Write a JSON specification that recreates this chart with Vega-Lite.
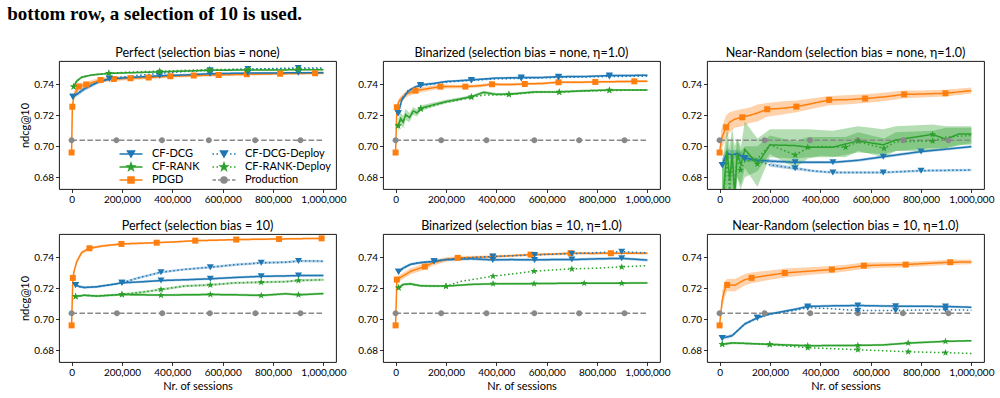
{
  "$schema": "https://vega.github.io/schema/vega-lite/v6.json",
  "padding": {"left": 7, "top": 5, "right": 2, "bottom": 2},
  "title": {"text": "bottom row, a selection of 10 is used.", "anchor": "start", "frame": "bounds", "font": "Liberation Serif", "fontSize": 19, "fontWeight": "bold", "color": "#000000", "offset": 22, "dx": -12},
  "config": {
    "font": "Lato",
    "view": {"stroke": "#000000", "strokeWidth": 0.9},
    "axis": {"domain": false, "grid": false, "tickColor": "#000000", "tickSize": 3.5, "tickWidth": 0.8, "labelFontSize": 10, "labelColor": "#000000", "labelPadding": 2, "titleFontSize": 11, "titleFontWeight": "normal", "titleColor": "#000000", "titlePadding": 3},
    "title": {"fontSize": 12.5, "fontWeight": "normal", "color": "#000000", "offset": 2}
  },
  "data": {"values": [
    {"p":1,"s":"Production","x":0,"y":0.704,"m":1},{"p":1,"s":"Production","x":178000,"y":0.704,"m":1},{"p":1,"s":"Production","x":359000,"y":0.704,"m":1},{"p":1,"s":"Production","x":545000,"y":0.704,"m":1},{"p":1,"s":"Production","x":729000,"y":0.704,"m":1},{"p":1,"s":"Production","x":909000,"y":0.704,"m":1},{"p":1,"s":"Production","x":1000000,"y":0.704},
    {"p":1,"s":"PDGD","x":0,"y":0.696,"m":1},
    {"p":1,"s":"PDGD","x":3000,"y":0.7255,"m":1,"lo":0.7235,"hi":0.7275},
    {"p":1,"s":"PDGD","x":10000,"y":0.733,"lo":0.7305,"hi":0.7355},
    {"p":1,"s":"PDGD","x":29000,"y":0.7385,"m":1,"lo":0.7365,"hi":0.7405},
    {"p":1,"s":"PDGD","x":58000,"y":0.7398,"m":1,"lo":0.738,"hi":0.7416},
    {"p":1,"s":"PDGD","x":115000,"y":0.7428,"m":1,"lo":0.7413,"hi":0.7443},
    {"p":1,"s":"PDGD","x":168000,"y":0.7434,"m":1,"lo":0.742,"hi":0.7448},
    {"p":1,"s":"PDGD","x":234000,"y":0.7439,"m":1,"lo":0.7427,"hi":0.7451},
    {"p":1,"s":"PDGD","x":306000,"y":0.7443,"m":1,"lo":0.7432,"hi":0.7454},
    {"p":1,"s":"PDGD","x":392000,"y":0.7452,"m":1,"lo":0.7442,"hi":0.7462},
    {"p":1,"s":"PDGD","x":485000,"y":0.7456,"m":1,"lo":0.7447,"hi":0.7465},
    {"p":1,"s":"PDGD","x":584000,"y":0.746,"m":1,"lo":0.7451,"hi":0.7469},
    {"p":1,"s":"PDGD","x":696000,"y":0.7464,"m":1,"lo":0.7456,"hi":0.7472},
    {"p":1,"s":"PDGD","x":828000,"y":0.7468,"m":1,"lo":0.746,"hi":0.7476},
    {"p":1,"s":"PDGD","x":967000,"y":0.7471,"m":1,"lo":0.7463,"hi":0.7479},
    {"p":1,"s":"PDGD","x":1000000,"y":0.7472,"lo":0.7464,"hi":0.748},
    {"p":1,"s":"CF-DCG","x":5000,"y":0.732,"m":1,"lo":0.7305,"hi":0.7335},
    {"p":1,"s":"CF-DCG","x":20000,"y":0.7335,"lo":0.732,"hi":0.735},
    {"p":1,"s":"CF-DCG","x":50000,"y":0.737,"lo":0.7355,"hi":0.7385},
    {"p":1,"s":"CF-DCG","x":100000,"y":0.741,"lo":0.7398,"hi":0.7422},
    {"p":1,"s":"CF-DCG","x":150000,"y":0.7435,"m":1,"lo":0.7425,"hi":0.7445},
    {"p":1,"s":"CF-DCG","x":250000,"y":0.7445,"lo":0.7437,"hi":0.7453},
    {"p":1,"s":"CF-DCG","x":350000,"y":0.7455,"m":1,"lo":0.7447,"hi":0.7463},
    {"p":1,"s":"CF-DCG","x":450000,"y":0.746,"lo":0.7452,"hi":0.7468},
    {"p":1,"s":"CF-DCG","x":550000,"y":0.7468,"m":1,"lo":0.746,"hi":0.7476},
    {"p":1,"s":"CF-DCG","x":700000,"y":0.7472,"m":1,"lo":0.7465,"hi":0.7479},
    {"p":1,"s":"CF-DCG","x":900000,"y":0.7474,"m":1,"lo":0.7467,"hi":0.7481},
    {"p":1,"s":"CF-DCG","x":1000000,"y":0.7475,"lo":0.7468,"hi":0.7482},
    {"p":1,"s":"CF-DCG-Deploy","x":5000,"y":0.732,"m":1},
    {"p":1,"s":"CF-DCG-Deploy","x":20000,"y":0.7335},
    {"p":1,"s":"CF-DCG-Deploy","x":50000,"y":0.737},
    {"p":1,"s":"CF-DCG-Deploy","x":100000,"y":0.741},
    {"p":1,"s":"CF-DCG-Deploy","x":150000,"y":0.7437,"m":1},
    {"p":1,"s":"CF-DCG-Deploy","x":250000,"y":0.7455},
    {"p":1,"s":"CF-DCG-Deploy","x":350000,"y":0.747,"m":1},
    {"p":1,"s":"CF-DCG-Deploy","x":450000,"y":0.7482},
    {"p":1,"s":"CF-DCG-Deploy","x":550000,"y":0.749,"m":1},
    {"p":1,"s":"CF-DCG-Deploy","x":700000,"y":0.7498,"m":1},
    {"p":1,"s":"CF-DCG-Deploy","x":900000,"y":0.7505,"m":1},
    {"p":1,"s":"CF-DCG-Deploy","x":1000000,"y":0.7505},
    {"p":1,"s":"CF-RANK","x":8000,"y":0.7385,"m":1,"lo":0.7375,"hi":0.7395},
    {"p":1,"s":"CF-RANK","x":20000,"y":0.742,"lo":0.741,"hi":0.743},
    {"p":1,"s":"CF-RANK","x":40000,"y":0.7445,"lo":0.7437,"hi":0.7453},
    {"p":1,"s":"CF-RANK","x":80000,"y":0.746,"lo":0.7453,"hi":0.7467},
    {"p":1,"s":"CF-RANK","x":148000,"y":0.747,"m":1,"lo":0.7464,"hi":0.7476},
    {"p":1,"s":"CF-RANK","x":250000,"y":0.7475,"lo":0.7469,"hi":0.7481},
    {"p":1,"s":"CF-RANK","x":350000,"y":0.748,"m":1,"lo":0.7474,"hi":0.7486},
    {"p":1,"s":"CF-RANK","x":548000,"y":0.749,"m":1,"lo":0.7485,"hi":0.7495},
    {"p":1,"s":"CF-RANK","x":700000,"y":0.7492,"m":1,"lo":0.7487,"hi":0.7497},
    {"p":1,"s":"CF-RANK","x":901000,"y":0.7493,"m":1,"lo":0.7488,"hi":0.7498},
    {"p":1,"s":"CF-RANK","x":1000000,"y":0.7494,"lo":0.7489,"hi":0.7499},
    {"p":1,"s":"CF-RANK-Deploy","x":8000,"y":0.7385,"m":1},
    {"p":1,"s":"CF-RANK-Deploy","x":20000,"y":0.742},
    {"p":1,"s":"CF-RANK-Deploy","x":40000,"y":0.7445},
    {"p":1,"s":"CF-RANK-Deploy","x":80000,"y":0.746},
    {"p":1,"s":"CF-RANK-Deploy","x":148000,"y":0.7472,"m":1},
    {"p":1,"s":"CF-RANK-Deploy","x":250000,"y":0.748},
    {"p":1,"s":"CF-RANK-Deploy","x":350000,"y":0.7485,"m":1},
    {"p":1,"s":"CF-RANK-Deploy","x":548000,"y":0.7495,"m":1},
    {"p":1,"s":"CF-RANK-Deploy","x":700000,"y":0.7497,"m":1},
    {"p":1,"s":"CF-RANK-Deploy","x":901000,"y":0.7498,"m":1},
    {"p":1,"s":"CF-RANK-Deploy","x":1000000,"y":0.7498},

    {"p":2,"s":"Production","x":0,"y":0.704,"m":1},{"p":2,"s":"Production","x":181000,"y":0.704,"m":1},{"p":2,"s":"Production","x":361000,"y":0.704,"m":1},{"p":2,"s":"Production","x":551000,"y":0.704,"m":1},{"p":2,"s":"Production","x":729000,"y":0.704,"m":1},{"p":2,"s":"Production","x":909000,"y":0.704,"m":1},{"p":2,"s":"Production","x":1000000,"y":0.704},
    {"p":2,"s":"PDGD","x":0,"y":0.696,"m":1},
    {"p":2,"s":"PDGD","x":5000,"y":0.7252,"m":1,"lo":0.7232,"hi":0.7272},
    {"p":2,"s":"PDGD","x":15000,"y":0.7295,"lo":0.7275,"hi":0.7315},
    {"p":2,"s":"PDGD","x":40000,"y":0.7335,"lo":0.7315,"hi":0.7355},
    {"p":2,"s":"PDGD","x":79000,"y":0.7359,"m":1,"lo":0.7341,"hi":0.7377},
    {"p":2,"s":"PDGD","x":120000,"y":0.737,"lo":0.7354,"hi":0.7386},
    {"p":2,"s":"PDGD","x":178000,"y":0.7385,"m":1,"lo":0.7372,"hi":0.7398},
    {"p":2,"s":"PDGD","x":230000,"y":0.7385,"lo":0.7373,"hi":0.7397},
    {"p":2,"s":"PDGD","x":277000,"y":0.7385,"m":1,"lo":0.7374,"hi":0.7396},
    {"p":2,"s":"PDGD","x":330000,"y":0.739,"lo":0.738,"hi":0.74},
    {"p":2,"s":"PDGD","x":383000,"y":0.74,"m":1,"lo":0.739,"hi":0.741},
    {"p":2,"s":"PDGD","x":450000,"y":0.7398,"lo":0.7389,"hi":0.7407},
    {"p":2,"s":"PDGD","x":513000,"y":0.7402,"m":1,"lo":0.7393,"hi":0.7411},
    {"p":2,"s":"PDGD","x":580000,"y":0.7405,"lo":0.7397,"hi":0.7413},
    {"p":2,"s":"PDGD","x":647000,"y":0.7413,"m":1,"lo":0.7405,"hi":0.7421},
    {"p":2,"s":"PDGD","x":720000,"y":0.7413,"lo":0.7405,"hi":0.7421},
    {"p":2,"s":"PDGD","x":793000,"y":0.7415,"m":1,"lo":0.7407,"hi":0.7423},
    {"p":2,"s":"PDGD","x":870000,"y":0.7417,"lo":0.7409,"hi":0.7425},
    {"p":2,"s":"PDGD","x":948000,"y":0.7419,"m":1,"lo":0.7411,"hi":0.7427},
    {"p":2,"s":"PDGD","x":1000000,"y":0.742,"lo":0.7412,"hi":0.7428},
    {"p":2,"s":"CF-DCG","x":10500,"y":0.7213,"m":1,"lo":0.7195,"hi":0.7231},
    {"p":2,"s":"CF-DCG","x":25000,"y":0.73,"lo":0.7285,"hi":0.7315},
    {"p":2,"s":"CF-DCG","x":50000,"y":0.7355,"lo":0.7343,"hi":0.7367},
    {"p":2,"s":"CF-DCG","x":75000,"y":0.738,"lo":0.737,"hi":0.739},
    {"p":2,"s":"CF-DCG","x":99000,"y":0.7396,"m":1,"lo":0.7387,"hi":0.7405},
    {"p":2,"s":"CF-DCG","x":150000,"y":0.7405,"lo":0.7397,"hi":0.7413},
    {"p":2,"s":"CF-DCG","x":200000,"y":0.7418,"lo":0.7411,"hi":0.7425},
    {"p":2,"s":"CF-DCG","x":301000,"y":0.7428,"m":1,"lo":0.7421,"hi":0.7435},
    {"p":2,"s":"CF-DCG","x":400000,"y":0.744,"lo":0.7433,"hi":0.7447},
    {"p":2,"s":"CF-DCG","x":499000,"y":0.7443,"m":1,"lo":0.7436,"hi":0.745},
    {"p":2,"s":"CF-DCG","x":570000,"y":0.7443,"lo":0.7436,"hi":0.745},
    {"p":2,"s":"CF-DCG","x":647000,"y":0.7449,"m":1,"lo":0.7442,"hi":0.7456},
    {"p":2,"s":"CF-DCG","x":750000,"y":0.745,"lo":0.7443,"hi":0.7457},
    {"p":2,"s":"CF-DCG","x":849000,"y":0.7456,"m":1,"lo":0.7449,"hi":0.7463},
    {"p":2,"s":"CF-DCG","x":1000000,"y":0.7458,"lo":0.7451,"hi":0.7465},
    {"p":2,"s":"CF-DCG-Deploy","x":10500,"y":0.7213,"m":1},
    {"p":2,"s":"CF-DCG-Deploy","x":25000,"y":0.7305},
    {"p":2,"s":"CF-DCG-Deploy","x":50000,"y":0.736},
    {"p":2,"s":"CF-DCG-Deploy","x":75000,"y":0.7378},
    {"p":2,"s":"CF-DCG-Deploy","x":99000,"y":0.739,"m":1},
    {"p":2,"s":"CF-DCG-Deploy","x":150000,"y":0.7402},
    {"p":2,"s":"CF-DCG-Deploy","x":200000,"y":0.7413},
    {"p":2,"s":"CF-DCG-Deploy","x":301000,"y":0.7425,"m":1},
    {"p":2,"s":"CF-DCG-Deploy","x":400000,"y":0.7435},
    {"p":2,"s":"CF-DCG-Deploy","x":499000,"y":0.7438,"m":1},
    {"p":2,"s":"CF-DCG-Deploy","x":647000,"y":0.7444,"m":1},
    {"p":2,"s":"CF-DCG-Deploy","x":849000,"y":0.745,"m":1},
    {"p":2,"s":"CF-DCG-Deploy","x":1000000,"y":0.7452},
    {"p":2,"s":"CF-RANK","x":10500,"y":0.7133,"m":1,"lo":0.709,"hi":0.7176},
    {"p":2,"s":"CF-RANK","x":20000,"y":0.718,"lo":0.714,"hi":0.722},
    {"p":2,"s":"CF-RANK","x":30000,"y":0.7155,"lo":0.7115,"hi":0.7195},
    {"p":2,"s":"CF-RANK","x":40000,"y":0.7205,"lo":0.717,"hi":0.724},
    {"p":2,"s":"CF-RANK","x":55000,"y":0.7185,"lo":0.7155,"hi":0.7215},
    {"p":2,"s":"CF-RANK","x":70000,"y":0.7228,"lo":0.7203,"hi":0.7253},
    {"p":2,"s":"CF-RANK","x":85000,"y":0.7215,"lo":0.7193,"hi":0.7237},
    {"p":2,"s":"CF-RANK","x":100000,"y":0.7245,"m":1,"lo":0.7227,"hi":0.7263},
    {"p":2,"s":"CF-RANK","x":150000,"y":0.7268,"lo":0.7254,"hi":0.7282},
    {"p":2,"s":"CF-RANK","x":200000,"y":0.7288,"lo":0.7276,"hi":0.73},
    {"p":2,"s":"CF-RANK","x":250000,"y":0.7303,"lo":0.7292,"hi":0.7314},
    {"p":2,"s":"CF-RANK","x":301000,"y":0.732,"m":1,"lo":0.731,"hi":0.733},
    {"p":2,"s":"CF-RANK","x":350000,"y":0.7348,"lo":0.7338,"hi":0.7358},
    {"p":2,"s":"CF-RANK","x":400000,"y":0.7335,"lo":0.7326,"hi":0.7344},
    {"p":2,"s":"CF-RANK","x":450000,"y":0.7336,"m":1,"lo":0.7327,"hi":0.7345},
    {"p":2,"s":"CF-RANK","x":550000,"y":0.735,"lo":0.7342,"hi":0.7358},
    {"p":2,"s":"CF-RANK","x":650000,"y":0.7351,"m":1,"lo":0.7343,"hi":0.7359},
    {"p":2,"s":"CF-RANK","x":750000,"y":0.7358,"lo":0.735,"hi":0.7366},
    {"p":2,"s":"CF-RANK","x":849000,"y":0.7363,"m":1,"lo":0.7356,"hi":0.737},
    {"p":2,"s":"CF-RANK","x":1000000,"y":0.7363,"lo":0.7356,"hi":0.737},
    {"p":2,"s":"CF-RANK-Deploy","x":10500,"y":0.7133,"m":1},
    {"p":2,"s":"CF-RANK-Deploy","x":20000,"y":0.7175},
    {"p":2,"s":"CF-RANK-Deploy","x":30000,"y":0.716},
    {"p":2,"s":"CF-RANK-Deploy","x":40000,"y":0.7195},
    {"p":2,"s":"CF-RANK-Deploy","x":55000,"y":0.719},
    {"p":2,"s":"CF-RANK-Deploy","x":70000,"y":0.722},
    {"p":2,"s":"CF-RANK-Deploy","x":85000,"y":0.7218},
    {"p":2,"s":"CF-RANK-Deploy","x":100000,"y":0.724,"m":1},
    {"p":2,"s":"CF-RANK-Deploy","x":150000,"y":0.7262},
    {"p":2,"s":"CF-RANK-Deploy","x":200000,"y":0.7285},
    {"p":2,"s":"CF-RANK-Deploy","x":250000,"y":0.7298},
    {"p":2,"s":"CF-RANK-Deploy","x":301000,"y":0.7316,"m":1},
    {"p":2,"s":"CF-RANK-Deploy","x":350000,"y":0.733},
    {"p":2,"s":"CF-RANK-Deploy","x":400000,"y":0.7332},
    {"p":2,"s":"CF-RANK-Deploy","x":450000,"y":0.7334,"m":1},
    {"p":2,"s":"CF-RANK-Deploy","x":550000,"y":0.7348},
    {"p":2,"s":"CF-RANK-Deploy","x":650000,"y":0.7349,"m":1},
    {"p":2,"s":"CF-RANK-Deploy","x":750000,"y":0.7357},
    {"p":2,"s":"CF-RANK-Deploy","x":849000,"y":0.736,"m":1},
    {"p":2,"s":"CF-RANK-Deploy","x":1000000,"y":0.7362},

    {"p":3,"s":"Production","x":0,"y":0.704,"m":1},{"p":3,"s":"Production","x":179000,"y":0.704,"m":1},{"p":3,"s":"Production","x":359000,"y":0.704,"m":1},{"p":3,"s":"Production","x":549000,"y":0.704,"m":1},{"p":3,"s":"Production","x":729000,"y":0.704,"m":1},{"p":3,"s":"Production","x":909000,"y":0.704,"m":1},{"p":3,"s":"Production","x":1000000,"y":0.704},
    {"p":3,"s":"PDGD","x":0,"y":0.696,"m":1},
    {"p":3,"s":"PDGD","x":5000,"y":0.702,"lo":0.694,"hi":0.71},
    {"p":3,"s":"PDGD","x":10000,"y":0.706,"lo":0.699,"hi":0.713},
    {"p":3,"s":"PDGD","x":26000,"y":0.7123,"m":1,"lo":0.705,"hi":0.72},
    {"p":3,"s":"PDGD","x":40000,"y":0.7155,"lo":0.709,"hi":0.722},
    {"p":3,"s":"PDGD","x":60000,"y":0.7175,"lo":0.712,"hi":0.723},
    {"p":3,"s":"PDGD","x":90000,"y":0.7187,"m":1,"lo":0.713,"hi":0.724},
    {"p":3,"s":"PDGD","x":120000,"y":0.72,"lo":0.715,"hi":0.725},
    {"p":3,"s":"PDGD","x":150000,"y":0.7215,"lo":0.716,"hi":0.727},
    {"p":3,"s":"PDGD","x":189000,"y":0.7239,"m":1,"lo":0.719,"hi":0.728},
    {"p":3,"s":"PDGD","x":250000,"y":0.7245,"lo":0.7205,"hi":0.729},
    {"p":3,"s":"PDGD","x":305000,"y":0.7256,"m":1,"lo":0.722,"hi":0.7295},
    {"p":3,"s":"PDGD","x":350000,"y":0.727,"lo":0.7235,"hi":0.7305},
    {"p":3,"s":"PDGD","x":435000,"y":0.7299,"m":1,"lo":0.7265,"hi":0.7325},
    {"p":3,"s":"PDGD","x":500000,"y":0.73,"lo":0.727,"hi":0.733},
    {"p":3,"s":"PDGD","x":578000,"y":0.7308,"m":1,"lo":0.728,"hi":0.7335},
    {"p":3,"s":"PDGD","x":650000,"y":0.7318,"lo":0.729,"hi":0.7345},
    {"p":3,"s":"PDGD","x":733000,"y":0.7335,"m":1,"lo":0.731,"hi":0.736},
    {"p":3,"s":"PDGD","x":800000,"y":0.7337,"lo":0.7315,"hi":0.736},
    {"p":3,"s":"PDGD","x":897000,"y":0.7342,"m":1,"lo":0.7322,"hi":0.7365},
    {"p":3,"s":"PDGD","x":1000000,"y":0.7359,"lo":0.734,"hi":0.738},
    {"p":3,"s":"CF-DCG","x":10500,"y":0.688,"m":1,"lo":0.684,"hi":0.692},
    {"p":3,"s":"CF-DCG","x":20000,"y":0.692,"lo":0.688,"hi":0.696},
    {"p":3,"s":"CF-DCG","x":30000,"y":0.6955,"lo":0.6925,"hi":0.6985},
    {"p":3,"s":"CF-DCG","x":50000,"y":0.6944,"lo":0.6915,"hi":0.6973},
    {"p":3,"s":"CF-DCG","x":70000,"y":0.6955,"lo":0.693,"hi":0.698},
    {"p":3,"s":"CF-DCG","x":100000,"y":0.6925,"m":1,"lo":0.6905,"hi":0.6945},
    {"p":3,"s":"CF-DCG","x":150000,"y":0.691,"lo":0.6895,"hi":0.6925},
    {"p":3,"s":"CF-DCG","x":200000,"y":0.6905,"lo":0.6893,"hi":0.6917},
    {"p":3,"s":"CF-DCG","x":300000,"y":0.6897,"m":1,"lo":0.6887,"hi":0.6907},
    {"p":3,"s":"CF-DCG","x":450000,"y":0.6897,"m":1,"lo":0.6888,"hi":0.6906},
    {"p":3,"s":"CF-DCG","x":550000,"y":0.691,"lo":0.6901,"hi":0.6919},
    {"p":3,"s":"CF-DCG","x":650000,"y":0.6933,"m":1,"lo":0.6924,"hi":0.6942},
    {"p":3,"s":"CF-DCG","x":800000,"y":0.6966,"m":1,"lo":0.6957,"hi":0.6975},
    {"p":3,"s":"CF-DCG","x":1000000,"y":0.6998,"lo":0.6989,"hi":0.7007},
    {"p":3,"s":"CF-DCG-Deploy","x":10500,"y":0.688,"m":1},
    {"p":3,"s":"CF-DCG-Deploy","x":20000,"y":0.692},
    {"p":3,"s":"CF-DCG-Deploy","x":30000,"y":0.695},
    {"p":3,"s":"CF-DCG-Deploy","x":50000,"y":0.694},
    {"p":3,"s":"CF-DCG-Deploy","x":70000,"y":0.695},
    {"p":3,"s":"CF-DCG-Deploy","x":100000,"y":0.692,"m":1},
    {"p":3,"s":"CF-DCG-Deploy","x":150000,"y":0.6905},
    {"p":3,"s":"CF-DCG-Deploy","x":200000,"y":0.688,"lo":0.6868,"hi":0.6892},
    {"p":3,"s":"CF-DCG-Deploy","x":300000,"y":0.6858,"m":1,"lo":0.6848,"hi":0.6868},
    {"p":3,"s":"CF-DCG-Deploy","x":380000,"y":0.684,"lo":0.6832,"hi":0.6848},
    {"p":3,"s":"CF-DCG-Deploy","x":450000,"y":0.6832,"m":1,"lo":0.6824,"hi":0.684},
    {"p":3,"s":"CF-DCG-Deploy","x":650000,"y":0.6832,"m":1,"lo":0.6824,"hi":0.684},
    {"p":3,"s":"CF-DCG-Deploy","x":800000,"y":0.6843,"m":1,"lo":0.6835,"hi":0.6851},
    {"p":3,"s":"CF-DCG-Deploy","x":1000000,"y":0.6847,"lo":0.6839,"hi":0.6855},
    {"p":3,"s":"CF-RANK","x":10000,"y":0.655,"lo":0.64,"hi":0.69},
    {"p":3,"s":"CF-RANK","x":20000,"y":0.68,"lo":0.66,"hi":0.7},
    {"p":3,"s":"CF-RANK","x":30000,"y":0.697,"lo":0.675,"hi":0.712},
    {"p":3,"s":"CF-RANK","x":40000,"y":0.678,"lo":0.665,"hi":0.7},
    {"p":3,"s":"CF-RANK","x":50000,"y":0.695,"lo":0.672,"hi":0.712},
    {"p":3,"s":"CF-RANK","x":60000,"y":0.668,"lo":0.66,"hi":0.7},
    {"p":3,"s":"CF-RANK","x":70000,"y":0.696,"lo":0.68,"hi":0.705},
    {"p":3,"s":"CF-RANK","x":85000,"y":0.688,"lo":0.675,"hi":0.7},
    {"p":3,"s":"CF-RANK","x":100000,"y":0.698,"lo":0.686,"hi":0.716},
    {"p":3,"s":"CF-RANK","x":150000,"y":0.6886,"m":1,"lo":0.674,"hi":0.705},
    {"p":3,"s":"CF-RANK","x":200000,"y":0.7009,"lo":0.693,"hi":0.711},
    {"p":3,"s":"CF-RANK","x":300000,"y":0.7005,"lo":0.692,"hi":0.711},
    {"p":3,"s":"CF-RANK","x":350000,"y":0.6994,"m":1,"lo":0.693,"hi":0.711},
    {"p":3,"s":"CF-RANK","x":450000,"y":0.6994,"lo":0.693,"hi":0.71},
    {"p":3,"s":"CF-RANK","x":550000,"y":0.7035,"m":1,"lo":0.696,"hi":0.713},
    {"p":3,"s":"CF-RANK","x":650000,"y":0.701,"lo":0.695,"hi":0.711},
    {"p":3,"s":"CF-RANK","x":700000,"y":0.7041,"lo":0.697,"hi":0.713},
    {"p":3,"s":"CF-RANK","x":846000,"y":0.7077,"m":1,"lo":0.699,"hi":0.714},
    {"p":3,"s":"CF-RANK","x":900000,"y":0.7045,"lo":0.699,"hi":0.713},
    {"p":3,"s":"CF-RANK","x":950000,"y":0.708,"lo":0.701,"hi":0.713},
    {"p":3,"s":"CF-RANK","x":1000000,"y":0.708,"lo":0.701,"hi":0.713},
    {"p":3,"s":"CF-RANK-Deploy","x":10000,"y":0.66,"lo":0.64,"hi":0.685},
    {"p":3,"s":"CF-RANK-Deploy","x":20000,"y":0.676,"lo":0.66,"hi":0.69},
    {"p":3,"s":"CF-RANK-Deploy","x":30000,"y":0.69,"lo":0.672,"hi":0.705},
    {"p":3,"s":"CF-RANK-Deploy","x":40000,"y":0.672,"lo":0.66,"hi":0.69},
    {"p":3,"s":"CF-RANK-Deploy","x":50000,"y":0.69,"lo":0.675,"hi":0.705},
    {"p":3,"s":"CF-RANK-Deploy","x":60000,"y":0.675,"lo":0.66,"hi":0.69},
    {"p":3,"s":"CF-RANK-Deploy","x":70000,"y":0.693,"lo":0.68,"hi":0.705},
    {"p":3,"s":"CF-RANK-Deploy","x":83000,"y":0.6847,"m":1,"lo":0.672,"hi":0.697},
    {"p":3,"s":"CF-RANK-Deploy","x":100000,"y":0.69,"lo":0.68,"hi":0.7},
    {"p":3,"s":"CF-RANK-Deploy","x":150000,"y":0.692,"lo":0.684,"hi":0.7},
    {"p":3,"s":"CF-RANK-Deploy","x":200000,"y":0.701,"lo":0.695,"hi":0.707},
    {"p":3,"s":"CF-RANK-Deploy","x":300000,"y":0.6944,"m":1,"lo":0.686,"hi":0.703},
    {"p":3,"s":"CF-RANK-Deploy","x":350000,"y":0.699,"lo":0.692,"hi":0.706},
    {"p":3,"s":"CF-RANK-Deploy","x":400000,"y":0.7,"lo":0.694,"hi":0.706},
    {"p":3,"s":"CF-RANK-Deploy","x":500000,"y":0.6994,"m":1,"lo":0.693,"hi":0.706},
    {"p":3,"s":"CF-RANK-Deploy","x":550000,"y":0.703,"lo":0.697,"hi":0.709},
    {"p":3,"s":"CF-RANK-Deploy","x":653000,"y":0.6987,"m":1,"lo":0.693,"hi":0.705},
    {"p":3,"s":"CF-RANK-Deploy","x":700000,"y":0.703,"lo":0.697,"hi":0.709},
    {"p":3,"s":"CF-RANK-Deploy","x":846000,"y":0.7034,"m":1,"lo":0.697,"hi":0.71},
    {"p":3,"s":"CF-RANK-Deploy","x":900000,"y":0.706,"lo":0.699,"hi":0.712},
    {"p":3,"s":"CF-RANK-Deploy","x":1000000,"y":0.707,"lo":0.702,"hi":0.712},

    {"p":4,"s":"Production","x":0,"y":0.704,"m":1},{"p":4,"s":"Production","x":180000,"y":0.704,"m":1},{"p":4,"s":"Production","x":360000,"y":0.704,"m":1},{"p":4,"s":"Production","x":549000,"y":0.704,"m":1},{"p":4,"s":"Production","x":730000,"y":0.704,"m":1},{"p":4,"s":"Production","x":909000,"y":0.704,"m":1},{"p":4,"s":"Production","x":1000000,"y":0.704},
    {"p":4,"s":"PDGD","x":0,"y":0.6961,"m":1},
    {"p":4,"s":"PDGD","x":5000,"y":0.7267,"m":1,"lo":0.7247,"hi":0.7287},
    {"p":4,"s":"PDGD","x":10000,"y":0.731,"lo":0.7292,"hi":0.7328},
    {"p":4,"s":"PDGD","x":20000,"y":0.737,"lo":0.7355,"hi":0.7385},
    {"p":4,"s":"PDGD","x":40000,"y":0.743,"lo":0.7418,"hi":0.7442},
    {"p":4,"s":"PDGD","x":71000,"y":0.7458,"m":1,"lo":0.7448,"hi":0.7468},
    {"p":4,"s":"PDGD","x":120000,"y":0.7472,"lo":0.7464,"hi":0.748},
    {"p":4,"s":"PDGD","x":198000,"y":0.7486,"m":1,"lo":0.7479,"hi":0.7493},
    {"p":4,"s":"PDGD","x":270000,"y":0.749,"lo":0.7483,"hi":0.7497},
    {"p":4,"s":"PDGD","x":338000,"y":0.7494,"m":1,"lo":0.7488,"hi":0.75},
    {"p":4,"s":"PDGD","x":420000,"y":0.75,"lo":0.7494,"hi":0.7506},
    {"p":4,"s":"PDGD","x":491000,"y":0.7507,"m":1,"lo":0.7501,"hi":0.7513},
    {"p":4,"s":"PDGD","x":570000,"y":0.751,"lo":0.7504,"hi":0.7516},
    {"p":4,"s":"PDGD","x":654000,"y":0.7514,"m":1,"lo":0.7508,"hi":0.752},
    {"p":4,"s":"PDGD","x":740000,"y":0.7516,"lo":0.751,"hi":0.7522},
    {"p":4,"s":"PDGD","x":824000,"y":0.7518,"m":1,"lo":0.7512,"hi":0.7524},
    {"p":4,"s":"PDGD","x":993000,"y":0.7522,"m":1,"lo":0.7516,"hi":0.7528},
    {"p":4,"s":"PDGD","x":1000000,"y":0.7522,"lo":0.7516,"hi":0.7528},
    {"p":4,"s":"CF-DCG","x":16000,"y":0.7222,"m":1,"lo":0.7212,"hi":0.7232},
    {"p":4,"s":"CF-DCG","x":30000,"y":0.7212,"lo":0.7203,"hi":0.7221},
    {"p":4,"s":"CF-DCG","x":50000,"y":0.7205,"lo":0.7197,"hi":0.7213},
    {"p":4,"s":"CF-DCG","x":100000,"y":0.721,"lo":0.7202,"hi":0.7218},
    {"p":4,"s":"CF-DCG","x":150000,"y":0.7222,"lo":0.7214,"hi":0.723},
    {"p":4,"s":"CF-DCG","x":200000,"y":0.7235,"m":1,"lo":0.7227,"hi":0.7243},
    {"p":4,"s":"CF-DCG","x":280000,"y":0.7242,"lo":0.7234,"hi":0.725},
    {"p":4,"s":"CF-DCG","x":355000,"y":0.725,"m":1,"lo":0.7242,"hi":0.7258},
    {"p":4,"s":"CF-DCG","x":450000,"y":0.7255,"lo":0.7247,"hi":0.7263},
    {"p":4,"s":"CF-DCG","x":551000,"y":0.7261,"m":1,"lo":0.7253,"hi":0.7269},
    {"p":4,"s":"CF-DCG","x":650000,"y":0.727,"lo":0.7262,"hi":0.7278},
    {"p":4,"s":"CF-DCG","x":753000,"y":0.7277,"m":1,"lo":0.7269,"hi":0.7285},
    {"p":4,"s":"CF-DCG","x":850000,"y":0.728,"lo":0.7272,"hi":0.7288},
    {"p":4,"s":"CF-DCG","x":901000,"y":0.7282,"m":1,"lo":0.7274,"hi":0.729},
    {"p":4,"s":"CF-DCG","x":1000000,"y":0.7282,"lo":0.7274,"hi":0.729},
    {"p":4,"s":"CF-DCG-Deploy","x":16000,"y":0.7222,"m":1},
    {"p":4,"s":"CF-DCG-Deploy","x":30000,"y":0.7212},
    {"p":4,"s":"CF-DCG-Deploy","x":50000,"y":0.7205},
    {"p":4,"s":"CF-DCG-Deploy","x":100000,"y":0.721},
    {"p":4,"s":"CF-DCG-Deploy","x":150000,"y":0.7222},
    {"p":4,"s":"CF-DCG-Deploy","x":200000,"y":0.7235,"m":1,"lo":0.7227,"hi":0.7243},
    {"p":4,"s":"CF-DCG-Deploy","x":260000,"y":0.7265,"lo":0.7257,"hi":0.7273},
    {"p":4,"s":"CF-DCG-Deploy","x":355000,"y":0.7304,"m":1,"lo":0.7296,"hi":0.7312},
    {"p":4,"s":"CF-DCG-Deploy","x":450000,"y":0.7322,"lo":0.7314,"hi":0.733},
    {"p":4,"s":"CF-DCG-Deploy","x":551000,"y":0.7336,"m":1,"lo":0.7328,"hi":0.7344},
    {"p":4,"s":"CF-DCG-Deploy","x":650000,"y":0.7352,"lo":0.7344,"hi":0.736},
    {"p":4,"s":"CF-DCG-Deploy","x":753000,"y":0.7364,"m":1,"lo":0.7356,"hi":0.7372},
    {"p":4,"s":"CF-DCG-Deploy","x":850000,"y":0.7368,"lo":0.736,"hi":0.7376},
    {"p":4,"s":"CF-DCG-Deploy","x":901000,"y":0.7376,"m":1,"lo":0.7368,"hi":0.7384},
    {"p":4,"s":"CF-DCG-Deploy","x":1000000,"y":0.7375,"lo":0.7367,"hi":0.7383},
    {"p":4,"s":"CF-RANK","x":16000,"y":0.7147,"m":1,"lo":0.7139,"hi":0.7155},
    {"p":4,"s":"CF-RANK","x":50000,"y":0.7155,"lo":0.7147,"hi":0.7163},
    {"p":4,"s":"CF-RANK","x":100000,"y":0.715,"lo":0.7142,"hi":0.7158},
    {"p":4,"s":"CF-RANK","x":200000,"y":0.716,"m":1,"lo":0.7152,"hi":0.7168},
    {"p":4,"s":"CF-RANK","x":280000,"y":0.7158,"lo":0.715,"hi":0.7166},
    {"p":4,"s":"CF-RANK","x":355000,"y":0.7156,"m":1,"lo":0.7148,"hi":0.7164},
    {"p":4,"s":"CF-RANK","x":450000,"y":0.7158,"lo":0.715,"hi":0.7166},
    {"p":4,"s":"CF-RANK","x":551000,"y":0.716,"m":1,"lo":0.7152,"hi":0.7168},
    {"p":4,"s":"CF-RANK","x":650000,"y":0.7158,"lo":0.715,"hi":0.7166},
    {"p":4,"s":"CF-RANK","x":753000,"y":0.7154,"m":1,"lo":0.7146,"hi":0.7162},
    {"p":4,"s":"CF-RANK","x":850000,"y":0.7165,"lo":0.7157,"hi":0.7173},
    {"p":4,"s":"CF-RANK","x":901000,"y":0.7158,"m":1,"lo":0.715,"hi":0.7166},
    {"p":4,"s":"CF-RANK","x":1000000,"y":0.7166,"lo":0.7158,"hi":0.7174},
    {"p":4,"s":"CF-RANK-Deploy","x":16000,"y":0.7147,"m":1},
    {"p":4,"s":"CF-RANK-Deploy","x":50000,"y":0.7155},
    {"p":4,"s":"CF-RANK-Deploy","x":100000,"y":0.715},
    {"p":4,"s":"CF-RANK-Deploy","x":200000,"y":0.716,"m":1,"lo":0.7152,"hi":0.7168},
    {"p":4,"s":"CF-RANK-Deploy","x":280000,"y":0.7175,"lo":0.7167,"hi":0.7183},
    {"p":4,"s":"CF-RANK-Deploy","x":355000,"y":0.7192,"m":1,"lo":0.7184,"hi":0.72},
    {"p":4,"s":"CF-RANK-Deploy","x":450000,"y":0.7215,"lo":0.7207,"hi":0.7223},
    {"p":4,"s":"CF-RANK-Deploy","x":551000,"y":0.7222,"m":1,"lo":0.7214,"hi":0.723},
    {"p":4,"s":"CF-RANK-Deploy","x":650000,"y":0.7235,"lo":0.7227,"hi":0.7243},
    {"p":4,"s":"CF-RANK-Deploy","x":753000,"y":0.7239,"m":1,"lo":0.7231,"hi":0.7247},
    {"p":4,"s":"CF-RANK-Deploy","x":850000,"y":0.7243,"lo":0.7235,"hi":0.7251},
    {"p":4,"s":"CF-RANK-Deploy","x":901000,"y":0.725,"m":1,"lo":0.7242,"hi":0.7258},
    {"p":4,"s":"CF-RANK-Deploy","x":1000000,"y":0.7255,"lo":0.7247,"hi":0.7263},

    {"p":5,"s":"Production","x":0,"y":0.704,"m":1},{"p":5,"s":"Production","x":181000,"y":0.704,"m":1},{"p":5,"s":"Production","x":361000,"y":0.704,"m":1},{"p":5,"s":"Production","x":551000,"y":0.704,"m":1},{"p":5,"s":"Production","x":729000,"y":0.704,"m":1},{"p":5,"s":"Production","x":909000,"y":0.704,"m":1},{"p":5,"s":"Production","x":1000000,"y":0.704},
    {"p":5,"s":"PDGD","x":0,"y":0.6961,"m":1},
    {"p":5,"s":"PDGD","x":5000,"y":0.7256,"m":1,"lo":0.7236,"hi":0.7276},
    {"p":5,"s":"PDGD","x":30000,"y":0.728,"lo":0.726,"hi":0.73},
    {"p":5,"s":"PDGD","x":60000,"y":0.731,"lo":0.729,"hi":0.733},
    {"p":5,"s":"PDGD","x":116000,"y":0.734,"m":1,"lo":0.732,"hi":0.736},
    {"p":5,"s":"PDGD","x":150000,"y":0.7365,"lo":0.7347,"hi":0.7383},
    {"p":5,"s":"PDGD","x":200000,"y":0.7385,"lo":0.737,"hi":0.74},
    {"p":5,"s":"PDGD","x":247000,"y":0.7396,"m":1,"lo":0.7384,"hi":0.7408},
    {"p":5,"s":"PDGD","x":320000,"y":0.74,"lo":0.739,"hi":0.741},
    {"p":5,"s":"PDGD","x":386000,"y":0.7404,"m":1,"lo":0.7395,"hi":0.7413},
    {"p":5,"s":"PDGD","x":460000,"y":0.741,"lo":0.7402,"hi":0.7418},
    {"p":5,"s":"PDGD","x":536000,"y":0.7417,"m":1,"lo":0.7409,"hi":0.7425},
    {"p":5,"s":"PDGD","x":620000,"y":0.742,"lo":0.7412,"hi":0.7428},
    {"p":5,"s":"PDGD","x":695000,"y":0.7426,"m":1,"lo":0.7418,"hi":0.7434},
    {"p":5,"s":"PDGD","x":780000,"y":0.7425,"lo":0.7417,"hi":0.7433},
    {"p":5,"s":"PDGD","x":855000,"y":0.7426,"m":1,"lo":0.7418,"hi":0.7434},
    {"p":5,"s":"PDGD","x":1000000,"y":0.7426,"lo":0.7418,"hi":0.7434},
    {"p":5,"s":"CF-DCG","x":12000,"y":0.7306,"m":1,"lo":0.7296,"hi":0.7316},
    {"p":5,"s":"CF-DCG","x":30000,"y":0.733,"lo":0.732,"hi":0.734},
    {"p":5,"s":"CF-DCG","x":60000,"y":0.7355,"lo":0.7345,"hi":0.7365},
    {"p":5,"s":"CF-DCG","x":100000,"y":0.7366,"lo":0.7357,"hi":0.7375},
    {"p":5,"s":"CF-DCG","x":153000,"y":0.7374,"m":1,"lo":0.7365,"hi":0.7383},
    {"p":5,"s":"CF-DCG","x":200000,"y":0.7385,"lo":0.7376,"hi":0.7394},
    {"p":5,"s":"CF-DCG","x":300000,"y":0.739,"lo":0.7381,"hi":0.7399},
    {"p":5,"s":"CF-DCG","x":386000,"y":0.7383,"m":1,"lo":0.7374,"hi":0.7392},
    {"p":5,"s":"CF-DCG","x":460000,"y":0.7385,"lo":0.7376,"hi":0.7394},
    {"p":5,"s":"CF-DCG","x":552000,"y":0.7383,"m":1,"lo":0.7374,"hi":0.7392},
    {"p":5,"s":"CF-DCG","x":620000,"y":0.7385,"lo":0.7376,"hi":0.7394},
    {"p":5,"s":"CF-DCG","x":700000,"y":0.7385,"m":1,"lo":0.7376,"hi":0.7394},
    {"p":5,"s":"CF-DCG","x":800000,"y":0.739,"lo":0.7381,"hi":0.7399},
    {"p":5,"s":"CF-DCG","x":898000,"y":0.7393,"m":1,"lo":0.7384,"hi":0.7402},
    {"p":5,"s":"CF-DCG","x":1000000,"y":0.7382,"lo":0.7373,"hi":0.7391},
    {"p":5,"s":"CF-DCG-Deploy","x":12000,"y":0.7306,"m":1},
    {"p":5,"s":"CF-DCG-Deploy","x":30000,"y":0.733},
    {"p":5,"s":"CF-DCG-Deploy","x":60000,"y":0.7355},
    {"p":5,"s":"CF-DCG-Deploy","x":100000,"y":0.7366},
    {"p":5,"s":"CF-DCG-Deploy","x":153000,"y":0.7374,"m":1},
    {"p":5,"s":"CF-DCG-Deploy","x":200000,"y":0.7385},
    {"p":5,"s":"CF-DCG-Deploy","x":300000,"y":0.7398},
    {"p":5,"s":"CF-DCG-Deploy","x":386000,"y":0.7405,"m":1},
    {"p":5,"s":"CF-DCG-Deploy","x":460000,"y":0.741},
    {"p":5,"s":"CF-DCG-Deploy","x":552000,"y":0.7415,"m":1},
    {"p":5,"s":"CF-DCG-Deploy","x":620000,"y":0.742},
    {"p":5,"s":"CF-DCG-Deploy","x":700000,"y":0.7423,"m":1},
    {"p":5,"s":"CF-DCG-Deploy","x":800000,"y":0.743},
    {"p":5,"s":"CF-DCG-Deploy","x":898000,"y":0.7436,"m":1},
    {"p":5,"s":"CF-DCG-Deploy","x":1000000,"y":0.7428},
    {"p":5,"s":"CF-RANK","x":12000,"y":0.7203,"m":1,"lo":0.7193,"hi":0.7213},
    {"p":5,"s":"CF-RANK","x":30000,"y":0.7225,"lo":0.7216,"hi":0.7234},
    {"p":5,"s":"CF-RANK","x":60000,"y":0.7228,"lo":0.7219,"hi":0.7237},
    {"p":5,"s":"CF-RANK","x":100000,"y":0.7216,"lo":0.7208,"hi":0.7224},
    {"p":5,"s":"CF-RANK","x":150000,"y":0.7215,"lo":0.7207,"hi":0.7223},
    {"p":5,"s":"CF-RANK","x":200000,"y":0.7214,"m":1,"lo":0.7206,"hi":0.7222},
    {"p":5,"s":"CF-RANK","x":300000,"y":0.7225,"lo":0.7218,"hi":0.7232},
    {"p":5,"s":"CF-RANK","x":387000,"y":0.7229,"m":1,"lo":0.7222,"hi":0.7236},
    {"p":5,"s":"CF-RANK","x":450000,"y":0.723,"lo":0.7223,"hi":0.7237},
    {"p":5,"s":"CF-RANK","x":550000,"y":0.723,"m":1,"lo":0.7223,"hi":0.7237},
    {"p":5,"s":"CF-RANK","x":650000,"y":0.7232,"lo":0.7225,"hi":0.7239},
    {"p":5,"s":"CF-RANK","x":749000,"y":0.7233,"m":1,"lo":0.7226,"hi":0.724},
    {"p":5,"s":"CF-RANK","x":898000,"y":0.7233,"m":1,"lo":0.7226,"hi":0.724},
    {"p":5,"s":"CF-RANK","x":1000000,"y":0.7235,"lo":0.7228,"hi":0.7242},
    {"p":5,"s":"CF-RANK-Deploy","x":12000,"y":0.7203,"m":1},
    {"p":5,"s":"CF-RANK-Deploy","x":30000,"y":0.7225},
    {"p":5,"s":"CF-RANK-Deploy","x":60000,"y":0.7228},
    {"p":5,"s":"CF-RANK-Deploy","x":100000,"y":0.7216},
    {"p":5,"s":"CF-RANK-Deploy","x":150000,"y":0.7215},
    {"p":5,"s":"CF-RANK-Deploy","x":200000,"y":0.7214,"m":1},
    {"p":5,"s":"CF-RANK-Deploy","x":260000,"y":0.7245},
    {"p":5,"s":"CF-RANK-Deploy","x":387000,"y":0.7278,"m":1},
    {"p":5,"s":"CF-RANK-Deploy","x":450000,"y":0.729},
    {"p":5,"s":"CF-RANK-Deploy","x":550000,"y":0.731,"m":1},
    {"p":5,"s":"CF-RANK-Deploy","x":620000,"y":0.7318},
    {"p":5,"s":"CF-RANK-Deploy","x":700000,"y":0.7325,"m":1},
    {"p":5,"s":"CF-RANK-Deploy","x":800000,"y":0.733},
    {"p":5,"s":"CF-RANK-Deploy","x":898000,"y":0.7338,"m":1},
    {"p":5,"s":"CF-RANK-Deploy","x":1000000,"y":0.7346},

    {"p":6,"s":"Production","x":0,"y":0.704,"m":1},{"p":6,"s":"Production","x":179000,"y":0.704,"m":1},{"p":6,"s":"Production","x":360000,"y":0.704,"m":1},{"p":6,"s":"Production","x":549000,"y":0.704,"m":1},{"p":6,"s":"Production","x":728000,"y":0.704,"m":1},{"p":6,"s":"Production","x":909000,"y":0.704,"m":1},{"p":6,"s":"Production","x":1000000,"y":0.704},
    {"p":6,"s":"PDGD","x":0,"y":0.6961,"m":1},
    {"p":6,"s":"PDGD","x":10000,"y":0.712,"lo":0.706,"hi":0.718},
    {"p":6,"s":"PDGD","x":20000,"y":0.719,"lo":0.714,"hi":0.724},
    {"p":6,"s":"PDGD","x":30000,"y":0.7222,"m":1,"lo":0.7182,"hi":0.7262},
    {"p":6,"s":"PDGD","x":60000,"y":0.722,"lo":0.718,"hi":0.726},
    {"p":6,"s":"PDGD","x":100000,"y":0.7255,"lo":0.7218,"hi":0.7292},
    {"p":6,"s":"PDGD","x":127000,"y":0.7267,"m":1,"lo":0.7232,"hi":0.7302},
    {"p":6,"s":"PDGD","x":200000,"y":0.7285,"lo":0.7255,"hi":0.7315},
    {"p":6,"s":"PDGD","x":259000,"y":0.7299,"m":1,"lo":0.727,"hi":0.7328},
    {"p":6,"s":"PDGD","x":350000,"y":0.731,"lo":0.7285,"hi":0.7335},
    {"p":6,"s":"PDGD","x":446000,"y":0.7321,"m":1,"lo":0.7298,"hi":0.7344},
    {"p":6,"s":"PDGD","x":500000,"y":0.733,"lo":0.7308,"hi":0.7352},
    {"p":6,"s":"PDGD","x":573000,"y":0.7346,"m":1,"lo":0.7326,"hi":0.7366},
    {"p":6,"s":"PDGD","x":650000,"y":0.735,"lo":0.7332,"hi":0.7368},
    {"p":6,"s":"PDGD","x":739000,"y":0.7353,"m":1,"lo":0.7336,"hi":0.737},
    {"p":6,"s":"PDGD","x":820000,"y":0.736,"lo":0.7344,"hi":0.7376},
    {"p":6,"s":"PDGD","x":916000,"y":0.7368,"m":1,"lo":0.7352,"hi":0.7384},
    {"p":6,"s":"PDGD","x":1000000,"y":0.737,"lo":0.7355,"hi":0.7385},
    {"p":6,"s":"CF-DCG","x":10500,"y":0.6879,"m":1,"lo":0.6869,"hi":0.6889},
    {"p":6,"s":"CF-DCG","x":50000,"y":0.6895,"lo":0.6885,"hi":0.6905},
    {"p":6,"s":"CF-DCG","x":100000,"y":0.697,"lo":0.696,"hi":0.698},
    {"p":6,"s":"CF-DCG","x":150000,"y":0.701,"m":1,"lo":0.7001,"hi":0.7019},
    {"p":6,"s":"CF-DCG","x":200000,"y":0.7035,"lo":0.7027,"hi":0.7043},
    {"p":6,"s":"CF-DCG","x":300000,"y":0.7065,"lo":0.7057,"hi":0.7073},
    {"p":6,"s":"CF-DCG","x":350000,"y":0.7083,"m":1,"lo":0.7075,"hi":0.7091},
    {"p":6,"s":"CF-DCG","x":450000,"y":0.7087,"lo":0.7079,"hi":0.7095},
    {"p":6,"s":"CF-DCG","x":549000,"y":0.7089,"m":1,"lo":0.7081,"hi":0.7097},
    {"p":6,"s":"CF-DCG","x":699000,"y":0.7085,"m":1,"lo":0.7077,"hi":0.7093},
    {"p":6,"s":"CF-DCG","x":800000,"y":0.7084,"lo":0.7076,"hi":0.7092},
    {"p":6,"s":"CF-DCG","x":897000,"y":0.7083,"m":1,"lo":0.7075,"hi":0.7091},
    {"p":6,"s":"CF-DCG","x":1000000,"y":0.7078,"lo":0.707,"hi":0.7086},
    {"p":6,"s":"CF-DCG-Deploy","x":10500,"y":0.6879,"m":1},
    {"p":6,"s":"CF-DCG-Deploy","x":50000,"y":0.6895},
    {"p":6,"s":"CF-DCG-Deploy","x":100000,"y":0.697},
    {"p":6,"s":"CF-DCG-Deploy","x":150000,"y":0.701,"m":1},
    {"p":6,"s":"CF-DCG-Deploy","x":200000,"y":0.7033},
    {"p":6,"s":"CF-DCG-Deploy","x":300000,"y":0.7058},
    {"p":6,"s":"CF-DCG-Deploy","x":350000,"y":0.7075,"m":1},
    {"p":6,"s":"CF-DCG-Deploy","x":450000,"y":0.7068},
    {"p":6,"s":"CF-DCG-Deploy","x":549000,"y":0.7056,"m":1},
    {"p":6,"s":"CF-DCG-Deploy","x":699000,"y":0.7057,"m":1},
    {"p":6,"s":"CF-DCG-Deploy","x":897000,"y":0.7063,"m":1},
    {"p":6,"s":"CF-DCG-Deploy","x":1000000,"y":0.7058},
    {"p":6,"s":"CF-RANK","x":10500,"y":0.6839,"m":1,"lo":0.683,"hi":0.6848},
    {"p":6,"s":"CF-RANK","x":50000,"y":0.6848,"lo":0.684,"hi":0.6856},
    {"p":6,"s":"CF-RANK","x":100000,"y":0.6845,"lo":0.6837,"hi":0.6853},
    {"p":6,"s":"CF-RANK","x":199000,"y":0.6839,"m":1,"lo":0.6832,"hi":0.6846},
    {"p":6,"s":"CF-RANK","x":350000,"y":0.683,"m":1,"lo":0.6823,"hi":0.6837},
    {"p":6,"s":"CF-RANK","x":549000,"y":0.6832,"m":1,"lo":0.6825,"hi":0.6839},
    {"p":6,"s":"CF-RANK","x":650000,"y":0.6835,"lo":0.6828,"hi":0.6842},
    {"p":6,"s":"CF-RANK","x":749000,"y":0.6847,"m":1,"lo":0.684,"hi":0.6854},
    {"p":6,"s":"CF-RANK","x":897000,"y":0.6858,"m":1,"lo":0.6851,"hi":0.6865},
    {"p":6,"s":"CF-RANK","x":1000000,"y":0.6862,"lo":0.6855,"hi":0.6869},
    {"p":6,"s":"CF-RANK-Deploy","x":10500,"y":0.6839,"m":1},
    {"p":6,"s":"CF-RANK-Deploy","x":50000,"y":0.6848},
    {"p":6,"s":"CF-RANK-Deploy","x":100000,"y":0.6845},
    {"p":6,"s":"CF-RANK-Deploy","x":199000,"y":0.6837,"m":1},
    {"p":6,"s":"CF-RANK-Deploy","x":270000,"y":0.6828},
    {"p":6,"s":"CF-RANK-Deploy","x":350000,"y":0.6817,"m":1},
    {"p":6,"s":"CF-RANK-Deploy","x":549000,"y":0.6804,"m":1},
    {"p":6,"s":"CF-RANK-Deploy","x":749000,"y":0.6791,"m":1},
    {"p":6,"s":"CF-RANK-Deploy","x":897000,"y":0.6785,"m":1},
    {"p":6,"s":"CF-RANK-Deploy","x":1000000,"y":0.678}
  ]},
  "resolve": {"scale": {"color": "independent", "shape": "independent", "strokeDash": "independent", "fill": "independent", "stroke": "independent"}},
  "columns": 3,
  "spacing": {"row": 45, "column": 47},
  "bounds": "flush",
  "concat": [
    {
      "title": "Perfect (selection bias = none)",
      "width": 277, "height": 128,
      "transform": [{"filter": "datum.p == 1"}],
      "encoding": {
        "x": {"field": "x", "type": "quantitative", "scale": {"domain": [-50000, 1050000], "nice": false, "zero": false}, "axis": {"values": [0, 200000, 400000, 600000, 800000, 1000000], "format": ",d", "title": null}}
      },
      "layer": [
        {"transform": [{"filter": "isValid(datum.lo)"}], "mark": {"type": "area", "opacity": 0.35, "clip": true},
         "encoding": {"y": {"field": "lo", "type": "quantitative", "scale": {"domain": [0.6725, 0.755], "nice": false, "zero": false}, "axis": {"values": [0.68, 0.7, 0.72, 0.74], "format": ".2f", "title": "ndcg@10"}}, "y2": {"field": "hi"},
           "color": {"field": "s", "type": "nominal", "scale": {"domain": ["CF-DCG", "CF-DCG-Deploy", "CF-RANK", "CF-RANK-Deploy", "PDGD", "Production", "~"], "range": ["#1f77b4", "#1f77b4", "#2ca02c", "#2ca02c", "#ff7f0e", "#898989", "#000000"]}, "legend": null}}},
        {"mark": {"type": "line", "strokeWidth": 1.5, "clip": true},
         "encoding": {"y": {"field": "y", "type": "quantitative", "scale": {"domain": [0.6725, 0.755], "nice": false, "zero": false}, "axis": {"values": [0.68, 0.7, 0.72, 0.74], "format": ".2f", "title": "ndcg@10"}},
           "color": {"field": "s", "type": "nominal", "scale": {"domain": ["CF-DCG", "CF-DCG-Deploy", "CF-RANK", "CF-RANK-Deploy", "PDGD", "Production", "~"], "range": ["#1f77b4", "#1f77b4", "#2ca02c", "#2ca02c", "#ff7f0e", "#898989", "#000000"]}, "legend": null},
           "strokeDash": {"field": "s", "type": "nominal", "scale": {"domain": ["CF-DCG", "CF-DCG-Deploy", "CF-RANK", "CF-RANK-Deploy", "PDGD", "Production", "~"], "range": [[1, 0], [1.5, 2.5], [1, 0], [1.5, 2.5], [1, 0], [5.5, 2.4], [1, 0]]}, "legend": null}}},
        {"transform": [{"filter": "datum.m == 1"}], "mark": {"type": "point", "filled": true, "opacity": 0, "size": 100},
         "encoding": {"y": {"field": "y", "type": "quantitative", "scale": {"domain": [0.6725, 0.755], "nice": false, "zero": false}, "axis": {"values": [0.68, 0.7, 0.72, 0.74], "format": ".2f", "title": "ndcg@10"}},
           "fill": {"field": "s", "type": "nominal", "scale": {"domain": ["CF-DCG", "CF-DCG-Deploy", "CF-RANK", "CF-RANK-Deploy", "PDGD", "Production"], "range": ["#1f77b4", "#1f77b4", "#2ca02c", "#2ca02c", "#ff7f0e", "#898989"]},
             "legend": {"orient": "none", "direction": "horizontal", "legendX": 66, "legendY": 87, "columns": 2, "title": null, "symbolSize": 100, "symbolStrokeWidth": 1.5, "symbolOpacity": 1, "symbolFillColor": "#000000", "symbolStrokeColor": "#000000", "labelFont": "Lato", "labelFontSize": 11, "labelColor": "#000000", "labelOffset": 15, "columnPadding": 9, "rowPadding": 0, "padding": 0}},
           "stroke": {"field": "s", "type": "nominal", "scale": {"domain": ["CF-DCG", "CF-DCG-Deploy", "CF-RANK", "CF-RANK-Deploy", "PDGD", "Production"], "range": ["#1f77b4", "#1f77b4", "#2ca02c", "#2ca02c", "#ff7f0e", "#898989"]},
             "legend": {"orient": "none", "direction": "horizontal", "legendX": 66, "legendY": 87, "columns": 2, "title": null, "symbolSize": 100, "symbolStrokeWidth": 1.5, "symbolOpacity": 1, "symbolFillColor": "#000000", "symbolStrokeColor": "#000000", "labelFont": "Lato", "labelFontSize": 11, "labelColor": "#000000", "labelOffset": 15, "columnPadding": 9, "rowPadding": 0, "padding": 0}},
           "shape": {"field": "s", "type": "nominal", "scale": {"domain": ["CF-DCG", "CF-DCG-Deploy", "CF-RANK", "CF-RANK-Deploy", "PDGD", "Production"], "range": [
             "M-2.3,0H2.3M-0.7,-0.6L0.7,-0.6L0,0.6Z",
             "M-2.3,0H-2M-1.5,0H-1.2M1.2,0H1.5M2,0H2.3M-0.7,-0.6L0.7,-0.6L0,0.6Z",
             "M-2.3,0H2.3M0,-0.75L0.1763,-0.2427L0.7133,-0.2318L0.2853,0.0927L0.4408,0.6068L0,0.3L-0.4408,0.6068L-0.2853,0.0927L-0.7133,-0.2318L-0.1763,-0.2427Z",
             "M-2.3,0H-2M-1.5,0H-1.2M1.2,0H1.5M2,0H2.3M0,-0.75L0.1763,-0.2427L0.7133,-0.2318L0.2853,0.0927L0.4408,0.6068L0,0.3L-0.4408,0.6068L-0.2853,0.0927L-0.7133,-0.2318L-0.1763,-0.2427Z",
             "M-2.3,0H2.3M-0.6,-0.6H0.6V0.6H-0.6Z",
             "M-2.3,0H-1.6M-1.2,0H-0.5M0.5,0H1.2M1.6,0H2.3M0.6,0A0.6,0.6 0 1 1 -0.6,0A0.6,0.6 0 1 1 0.6,0Z"]},
             "legend": {"orient": "none", "direction": "horizontal", "legendX": 66, "legendY": 87, "columns": 2, "title": null, "symbolSize": 100, "symbolStrokeWidth": 1.5, "symbolOpacity": 1, "symbolFillColor": "#000000", "symbolStrokeColor": "#000000", "labelFont": "Lato", "labelFontSize": 11, "labelColor": "#000000", "labelOffset": 15, "columnPadding": 9, "rowPadding": 0, "padding": 0}}}},
        {"transform": [{"filter": "datum.m == 1"}], "mark": {"type": "point", "filled": true, "opacity": 1, "size": 100, "clip": true},
         "encoding": {"y": {"field": "y", "type": "quantitative", "scale": {"domain": [0.6725, 0.755], "nice": false, "zero": false}, "axis": {"values": [0.68, 0.7, 0.72, 0.74], "format": ".2f", "title": "ndcg@10"}},
           "fill": {"field": "s", "type": "nominal", "scale": {"domain": ["CF-DCG", "CF-DCG-Deploy", "CF-RANK", "CF-RANK-Deploy", "PDGD", "Production"], "range": ["#1f77b4", "#1f77b4", "#2ca02c", "#2ca02c", "#ff7f0e", "#898989"]},
             "legend": {"orient": "none", "direction": "horizontal", "legendX": 66, "legendY": 87, "columns": 2, "title": null, "symbolSize": 100, "symbolStrokeWidth": 1.5, "symbolOpacity": 1, "symbolFillColor": "#000000", "symbolStrokeColor": "#000000", "labelFont": "Lato", "labelFontSize": 11, "labelColor": "#000000", "labelOffset": 15, "columnPadding": 9, "rowPadding": 0, "padding": 0}},
           "shape": {"field": "s", "type": "nominal", "scale": {"domain": ["CF-DCG", "CF-DCG-Deploy", "CF-RANK", "CF-RANK-Deploy", "PDGD", "Production"], "range": [
             "M-2.3,0H2.3M-0.7,-0.6L0.7,-0.6L0,0.6Z",
             "M-2.3,0H-2M-1.5,0H-1.2M1.2,0H1.5M2,0H2.3M-0.7,-0.6L0.7,-0.6L0,0.6Z",
             "M-2.3,0H2.3M0,-0.75L0.1763,-0.2427L0.7133,-0.2318L0.2853,0.0927L0.4408,0.6068L0,0.3L-0.4408,0.6068L-0.2853,0.0927L-0.7133,-0.2318L-0.1763,-0.2427Z",
             "M-2.3,0H-2M-1.5,0H-1.2M1.2,0H1.5M2,0H2.3M0,-0.75L0.1763,-0.2427L0.7133,-0.2318L0.2853,0.0927L0.4408,0.6068L0,0.3L-0.4408,0.6068L-0.2853,0.0927L-0.7133,-0.2318L-0.1763,-0.2427Z",
             "M-2.3,0H2.3M-0.6,-0.6H0.6V0.6H-0.6Z",
             "M-2.3,0H-1.6M-1.2,0H-0.5M0.5,0H1.2M1.6,0H2.3M0.6,0A0.6,0.6 0 1 1 -0.6,0A0.6,0.6 0 1 1 0.6,0Z"]},
             "legend": {"orient": "none", "direction": "horizontal", "legendX": 66, "legendY": 87, "columns": 2, "title": null, "symbolSize": 100, "symbolStrokeWidth": 1.5, "symbolOpacity": 1, "symbolFillColor": "#000000", "symbolStrokeColor": "#000000", "labelFont": "Lato", "labelFontSize": 11, "labelColor": "#000000", "labelOffset": 15, "columnPadding": 9, "rowPadding": 0, "padding": 0}}}}
      ]
    },
    {
      "title": "Binarized (selection bias = none, η=1.0)",
      "width": 277, "height": 128,
      "transform": [{"filter": "datum.p == 2"}],
      "encoding": {
        "x": {"field": "x", "type": "quantitative", "scale": {"domain": [-50000, 1050000], "nice": false, "zero": false}, "axis": {"values": [0, 200000, 400000, 600000, 800000, 1000000], "format": ",d", "title": null}}
      },
      "layer": [
        {"transform": [{"filter": "isValid(datum.lo)"}], "mark": {"type": "area", "opacity": 0.35, "clip": true},
         "encoding": {"y": {"field": "lo", "type": "quantitative", "scale": {"domain": [0.6725, 0.755], "nice": false, "zero": false}, "axis": {"values": [0.68, 0.7, 0.72, 0.74], "format": ".2f", "title": null}}, "y2": {"field": "hi"},
           "color": {"field": "s", "type": "nominal", "scale": {"domain": ["CF-DCG", "CF-DCG-Deploy", "CF-RANK", "CF-RANK-Deploy", "PDGD", "Production"], "range": ["#1f77b4", "#1f77b4", "#2ca02c", "#2ca02c", "#ff7f0e", "#898989"]}, "legend": null}}},
        {"mark": {"type": "line", "strokeWidth": 1.5, "clip": true},
         "encoding": {"y": {"field": "y", "type": "quantitative", "scale": {"domain": [0.6725, 0.755], "nice": false, "zero": false}, "axis": {"values": [0.68, 0.7, 0.72, 0.74], "format": ".2f", "title": null}},
           "color": {"field": "s", "type": "nominal", "scale": {"domain": ["CF-DCG", "CF-DCG-Deploy", "CF-RANK", "CF-RANK-Deploy", "PDGD", "Production"], "range": ["#1f77b4", "#1f77b4", "#2ca02c", "#2ca02c", "#ff7f0e", "#898989"]}, "legend": null},
           "strokeDash": {"field": "s", "type": "nominal", "scale": {"domain": ["CF-DCG", "CF-DCG-Deploy", "CF-RANK", "CF-RANK-Deploy", "PDGD", "Production"], "range": [[1, 0], [1.5, 2.5], [1, 0], [1.5, 2.5], [1, 0], [5.5, 2.4]]}, "legend": null}}},
        {"transform": [{"filter": "datum.m == 1"}], "mark": {"type": "point", "filled": true, "opacity": 1, "size": 100, "clip": true},
         "encoding": {"y": {"field": "y", "type": "quantitative", "scale": {"domain": [0.6725, 0.755], "nice": false, "zero": false}, "axis": {"values": [0.68, 0.7, 0.72, 0.74], "format": ".2f", "title": null}},
           "fill": {"field": "s", "type": "nominal", "scale": {"domain": ["CF-DCG", "CF-DCG-Deploy", "CF-RANK", "CF-RANK-Deploy", "PDGD", "Production"], "range": ["#1f77b4", "#1f77b4", "#2ca02c", "#2ca02c", "#ff7f0e", "#898989"]}, "legend": null},
           "shape": {"field": "s", "type": "nominal", "scale": {"domain": ["CF-DCG", "CF-DCG-Deploy", "CF-RANK", "CF-RANK-Deploy", "PDGD", "Production"], "range": [
             "M-0.7,-0.6L0.7,-0.6L0,0.6Z", "M-0.7,-0.6L0.7,-0.6L0,0.6Z",
             "M0,-0.75L0.1763,-0.2427L0.7133,-0.2318L0.2853,0.0927L0.4408,0.6068L0,0.3L-0.4408,0.6068L-0.2853,0.0927L-0.7133,-0.2318L-0.1763,-0.2427Z",
             "M0,-0.75L0.1763,-0.2427L0.7133,-0.2318L0.2853,0.0927L0.4408,0.6068L0,0.3L-0.4408,0.6068L-0.2853,0.0927L-0.7133,-0.2318L-0.1763,-0.2427Z",
             "M-0.6,-0.6H0.6V0.6H-0.6Z",
             "M0.6,0A0.6,0.6 0 1 1 -0.6,0A0.6,0.6 0 1 1 0.6,0Z"]}, "legend": null}}}
      ]
    },
    {
      "title": "Near-Random (selection bias = none, η=1.0)",
      "width": 277, "height": 128,
      "transform": [{"filter": "datum.p == 3"}],
      "encoding": {
        "x": {"field": "x", "type": "quantitative", "scale": {"domain": [-50000, 1050000], "nice": false, "zero": false}, "axis": {"values": [0, 200000, 400000, 600000, 800000, 1000000], "format": ",d", "title": null}}
      },
      "layer": [
        {"transform": [{"filter": "isValid(datum.lo)"}], "mark": {"type": "area", "opacity": 0.35, "clip": true},
         "encoding": {"y": {"field": "lo", "type": "quantitative", "scale": {"domain": [0.6725, 0.755], "nice": false, "zero": false}, "axis": {"values": [0.68, 0.7, 0.72, 0.74], "format": ".2f", "title": null}}, "y2": {"field": "hi"},
           "color": {"field": "s", "type": "nominal", "scale": {"domain": ["CF-DCG", "CF-DCG-Deploy", "CF-RANK", "CF-RANK-Deploy", "PDGD", "Production"], "range": ["#1f77b4", "#1f77b4", "#2ca02c", "#2ca02c", "#ff7f0e", "#898989"]}, "legend": null}}},
        {"mark": {"type": "line", "strokeWidth": 1.5, "clip": true},
         "encoding": {"y": {"field": "y", "type": "quantitative", "scale": {"domain": [0.6725, 0.755], "nice": false, "zero": false}, "axis": {"values": [0.68, 0.7, 0.72, 0.74], "format": ".2f", "title": null}},
           "color": {"field": "s", "type": "nominal", "scale": {"domain": ["CF-DCG", "CF-DCG-Deploy", "CF-RANK", "CF-RANK-Deploy", "PDGD", "Production"], "range": ["#1f77b4", "#1f77b4", "#2ca02c", "#2ca02c", "#ff7f0e", "#898989"]}, "legend": null},
           "strokeDash": {"field": "s", "type": "nominal", "scale": {"domain": ["CF-DCG", "CF-DCG-Deploy", "CF-RANK", "CF-RANK-Deploy", "PDGD", "Production"], "range": [[1, 0], [1.5, 2.5], [1, 0], [1.5, 2.5], [1, 0], [5.5, 2.4]]}, "legend": null}}},
        {"transform": [{"filter": "datum.m == 1"}], "mark": {"type": "point", "filled": true, "opacity": 1, "size": 100, "clip": true},
         "encoding": {"y": {"field": "y", "type": "quantitative", "scale": {"domain": [0.6725, 0.755], "nice": false, "zero": false}, "axis": {"values": [0.68, 0.7, 0.72, 0.74], "format": ".2f", "title": null}},
           "fill": {"field": "s", "type": "nominal", "scale": {"domain": ["CF-DCG", "CF-DCG-Deploy", "CF-RANK", "CF-RANK-Deploy", "PDGD", "Production"], "range": ["#1f77b4", "#1f77b4", "#2ca02c", "#2ca02c", "#ff7f0e", "#898989"]}, "legend": null},
           "shape": {"field": "s", "type": "nominal", "scale": {"domain": ["CF-DCG", "CF-DCG-Deploy", "CF-RANK", "CF-RANK-Deploy", "PDGD", "Production"], "range": [
             "M-0.7,-0.6L0.7,-0.6L0,0.6Z", "M-0.7,-0.6L0.7,-0.6L0,0.6Z",
             "M0,-0.75L0.1763,-0.2427L0.7133,-0.2318L0.2853,0.0927L0.4408,0.6068L0,0.3L-0.4408,0.6068L-0.2853,0.0927L-0.7133,-0.2318L-0.1763,-0.2427Z",
             "M0,-0.75L0.1763,-0.2427L0.7133,-0.2318L0.2853,0.0927L0.4408,0.6068L0,0.3L-0.4408,0.6068L-0.2853,0.0927L-0.7133,-0.2318L-0.1763,-0.2427Z",
             "M-0.6,-0.6H0.6V0.6H-0.6Z",
             "M0.6,0A0.6,0.6 0 1 1 -0.6,0A0.6,0.6 0 1 1 0.6,0Z"]}, "legend": null}}}
      ]
    },
    {
      "title": "Perfect (selection bias = 10)",
      "width": 277, "height": 128,
      "transform": [{"filter": "datum.p == 4"}],
      "encoding": {
        "x": {"field": "x", "type": "quantitative", "scale": {"domain": [-50000, 1050000], "nice": false, "zero": false}, "axis": {"values": [0, 200000, 400000, 600000, 800000, 1000000], "format": ",d", "title": "Nr. of sessions"}}
      },
      "layer": [
        {"transform": [{"filter": "isValid(datum.lo)"}], "mark": {"type": "area", "opacity": 0.35, "clip": true},
         "encoding": {"y": {"field": "lo", "type": "quantitative", "scale": {"domain": [0.6725, 0.755], "nice": false, "zero": false}, "axis": {"values": [0.68, 0.7, 0.72, 0.74], "format": ".2f", "title": "ndcg@10"}}, "y2": {"field": "hi"},
           "color": {"field": "s", "type": "nominal", "scale": {"domain": ["CF-DCG", "CF-DCG-Deploy", "CF-RANK", "CF-RANK-Deploy", "PDGD", "Production"], "range": ["#1f77b4", "#1f77b4", "#2ca02c", "#2ca02c", "#ff7f0e", "#898989"]}, "legend": null}}},
        {"mark": {"type": "line", "strokeWidth": 1.5, "clip": true},
         "encoding": {"y": {"field": "y", "type": "quantitative", "scale": {"domain": [0.6725, 0.755], "nice": false, "zero": false}, "axis": {"values": [0.68, 0.7, 0.72, 0.74], "format": ".2f", "title": "ndcg@10"}},
           "color": {"field": "s", "type": "nominal", "scale": {"domain": ["CF-DCG", "CF-DCG-Deploy", "CF-RANK", "CF-RANK-Deploy", "PDGD", "Production"], "range": ["#1f77b4", "#1f77b4", "#2ca02c", "#2ca02c", "#ff7f0e", "#898989"]}, "legend": null},
           "strokeDash": {"field": "s", "type": "nominal", "scale": {"domain": ["CF-DCG", "CF-DCG-Deploy", "CF-RANK", "CF-RANK-Deploy", "PDGD", "Production"], "range": [[1, 0], [1.5, 2.5], [1, 0], [1.5, 2.5], [1, 0], [5.5, 2.4]]}, "legend": null}}},
        {"transform": [{"filter": "datum.m == 1"}], "mark": {"type": "point", "filled": true, "opacity": 1, "size": 100, "clip": true},
         "encoding": {"y": {"field": "y", "type": "quantitative", "scale": {"domain": [0.6725, 0.755], "nice": false, "zero": false}, "axis": {"values": [0.68, 0.7, 0.72, 0.74], "format": ".2f", "title": "ndcg@10"}},
           "fill": {"field": "s", "type": "nominal", "scale": {"domain": ["CF-DCG", "CF-DCG-Deploy", "CF-RANK", "CF-RANK-Deploy", "PDGD", "Production"], "range": ["#1f77b4", "#1f77b4", "#2ca02c", "#2ca02c", "#ff7f0e", "#898989"]}, "legend": null},
           "shape": {"field": "s", "type": "nominal", "scale": {"domain": ["CF-DCG", "CF-DCG-Deploy", "CF-RANK", "CF-RANK-Deploy", "PDGD", "Production"], "range": [
             "M-0.7,-0.6L0.7,-0.6L0,0.6Z", "M-0.7,-0.6L0.7,-0.6L0,0.6Z",
             "M0,-0.75L0.1763,-0.2427L0.7133,-0.2318L0.2853,0.0927L0.4408,0.6068L0,0.3L-0.4408,0.6068L-0.2853,0.0927L-0.7133,-0.2318L-0.1763,-0.2427Z",
             "M0,-0.75L0.1763,-0.2427L0.7133,-0.2318L0.2853,0.0927L0.4408,0.6068L0,0.3L-0.4408,0.6068L-0.2853,0.0927L-0.7133,-0.2318L-0.1763,-0.2427Z",
             "M-0.6,-0.6H0.6V0.6H-0.6Z",
             "M0.6,0A0.6,0.6 0 1 1 -0.6,0A0.6,0.6 0 1 1 0.6,0Z"]}, "legend": null}}}
      ]
    },
    {
      "title": "Binarized (selection bias = 10, η=1.0)",
      "width": 277, "height": 128,
      "transform": [{"filter": "datum.p == 5"}],
      "encoding": {
        "x": {"field": "x", "type": "quantitative", "scale": {"domain": [-50000, 1050000], "nice": false, "zero": false}, "axis": {"values": [0, 200000, 400000, 600000, 800000, 1000000], "format": ",d", "title": "Nr. of sessions"}}
      },
      "layer": [
        {"transform": [{"filter": "isValid(datum.lo)"}], "mark": {"type": "area", "opacity": 0.35, "clip": true},
         "encoding": {"y": {"field": "lo", "type": "quantitative", "scale": {"domain": [0.6725, 0.755], "nice": false, "zero": false}, "axis": {"values": [0.68, 0.7, 0.72, 0.74], "format": ".2f", "title": null}}, "y2": {"field": "hi"},
           "color": {"field": "s", "type": "nominal", "scale": {"domain": ["CF-DCG", "CF-DCG-Deploy", "CF-RANK", "CF-RANK-Deploy", "PDGD", "Production"], "range": ["#1f77b4", "#1f77b4", "#2ca02c", "#2ca02c", "#ff7f0e", "#898989"]}, "legend": null}}},
        {"mark": {"type": "line", "strokeWidth": 1.5, "clip": true},
         "encoding": {"y": {"field": "y", "type": "quantitative", "scale": {"domain": [0.6725, 0.755], "nice": false, "zero": false}, "axis": {"values": [0.68, 0.7, 0.72, 0.74], "format": ".2f", "title": null}},
           "color": {"field": "s", "type": "nominal", "scale": {"domain": ["CF-DCG", "CF-DCG-Deploy", "CF-RANK", "CF-RANK-Deploy", "PDGD", "Production"], "range": ["#1f77b4", "#1f77b4", "#2ca02c", "#2ca02c", "#ff7f0e", "#898989"]}, "legend": null},
           "strokeDash": {"field": "s", "type": "nominal", "scale": {"domain": ["CF-DCG", "CF-DCG-Deploy", "CF-RANK", "CF-RANK-Deploy", "PDGD", "Production"], "range": [[1, 0], [1.5, 2.5], [1, 0], [1.5, 2.5], [1, 0], [5.5, 2.4]]}, "legend": null}}},
        {"transform": [{"filter": "datum.m == 1"}], "mark": {"type": "point", "filled": true, "opacity": 1, "size": 100, "clip": true},
         "encoding": {"y": {"field": "y", "type": "quantitative", "scale": {"domain": [0.6725, 0.755], "nice": false, "zero": false}, "axis": {"values": [0.68, 0.7, 0.72, 0.74], "format": ".2f", "title": null}},
           "fill": {"field": "s", "type": "nominal", "scale": {"domain": ["CF-DCG", "CF-DCG-Deploy", "CF-RANK", "CF-RANK-Deploy", "PDGD", "Production"], "range": ["#1f77b4", "#1f77b4", "#2ca02c", "#2ca02c", "#ff7f0e", "#898989"]}, "legend": null},
           "shape": {"field": "s", "type": "nominal", "scale": {"domain": ["CF-DCG", "CF-DCG-Deploy", "CF-RANK", "CF-RANK-Deploy", "PDGD", "Production"], "range": [
             "M-0.7,-0.6L0.7,-0.6L0,0.6Z", "M-0.7,-0.6L0.7,-0.6L0,0.6Z",
             "M0,-0.75L0.1763,-0.2427L0.7133,-0.2318L0.2853,0.0927L0.4408,0.6068L0,0.3L-0.4408,0.6068L-0.2853,0.0927L-0.7133,-0.2318L-0.1763,-0.2427Z",
             "M0,-0.75L0.1763,-0.2427L0.7133,-0.2318L0.2853,0.0927L0.4408,0.6068L0,0.3L-0.4408,0.6068L-0.2853,0.0927L-0.7133,-0.2318L-0.1763,-0.2427Z",
             "M-0.6,-0.6H0.6V0.6H-0.6Z",
             "M0.6,0A0.6,0.6 0 1 1 -0.6,0A0.6,0.6 0 1 1 0.6,0Z"]}, "legend": null}}}
      ]
    },
    {
      "title": "Near-Random (selection bias = 10, η=1.0)",
      "width": 277, "height": 128,
      "transform": [{"filter": "datum.p == 6"}],
      "encoding": {
        "x": {"field": "x", "type": "quantitative", "scale": {"domain": [-50000, 1050000], "nice": false, "zero": false}, "axis": {"values": [0, 200000, 400000, 600000, 800000, 1000000], "format": ",d", "title": "Nr. of sessions"}}
      },
      "layer": [
        {"transform": [{"filter": "isValid(datum.lo)"}], "mark": {"type": "area", "opacity": 0.35, "clip": true},
         "encoding": {"y": {"field": "lo", "type": "quantitative", "scale": {"domain": [0.6725, 0.755], "nice": false, "zero": false}, "axis": {"values": [0.68, 0.7, 0.72, 0.74], "format": ".2f", "title": null}}, "y2": {"field": "hi"},
           "color": {"field": "s", "type": "nominal", "scale": {"domain": ["CF-DCG", "CF-DCG-Deploy", "CF-RANK", "CF-RANK-Deploy", "PDGD", "Production"], "range": ["#1f77b4", "#1f77b4", "#2ca02c", "#2ca02c", "#ff7f0e", "#898989"]}, "legend": null}}},
        {"mark": {"type": "line", "strokeWidth": 1.5, "clip": true},
         "encoding": {"y": {"field": "y", "type": "quantitative", "scale": {"domain": [0.6725, 0.755], "nice": false, "zero": false}, "axis": {"values": [0.68, 0.7, 0.72, 0.74], "format": ".2f", "title": null}},
           "color": {"field": "s", "type": "nominal", "scale": {"domain": ["CF-DCG", "CF-DCG-Deploy", "CF-RANK", "CF-RANK-Deploy", "PDGD", "Production"], "range": ["#1f77b4", "#1f77b4", "#2ca02c", "#2ca02c", "#ff7f0e", "#898989"]}, "legend": null},
           "strokeDash": {"field": "s", "type": "nominal", "scale": {"domain": ["CF-DCG", "CF-DCG-Deploy", "CF-RANK", "CF-RANK-Deploy", "PDGD", "Production"], "range": [[1, 0], [1.5, 2.5], [1, 0], [1.5, 2.5], [1, 0], [5.5, 2.4]]}, "legend": null}}},
        {"transform": [{"filter": "datum.m == 1"}], "mark": {"type": "point", "filled": true, "opacity": 1, "size": 100, "clip": true},
         "encoding": {"y": {"field": "y", "type": "quantitative", "scale": {"domain": [0.6725, 0.755], "nice": false, "zero": false}, "axis": {"values": [0.68, 0.7, 0.72, 0.74], "format": ".2f", "title": null}},
           "fill": {"field": "s", "type": "nominal", "scale": {"domain": ["CF-DCG", "CF-DCG-Deploy", "CF-RANK", "CF-RANK-Deploy", "PDGD", "Production"], "range": ["#1f77b4", "#1f77b4", "#2ca02c", "#2ca02c", "#ff7f0e", "#898989"]}, "legend": null},
           "shape": {"field": "s", "type": "nominal", "scale": {"domain": ["CF-DCG", "CF-DCG-Deploy", "CF-RANK", "CF-RANK-Deploy", "PDGD", "Production"], "range": [
             "M-0.7,-0.6L0.7,-0.6L0,0.6Z", "M-0.7,-0.6L0.7,-0.6L0,0.6Z",
             "M0,-0.75L0.1763,-0.2427L0.7133,-0.2318L0.2853,0.0927L0.4408,0.6068L0,0.3L-0.4408,0.6068L-0.2853,0.0927L-0.7133,-0.2318L-0.1763,-0.2427Z",
             "M0,-0.75L0.1763,-0.2427L0.7133,-0.2318L0.2853,0.0927L0.4408,0.6068L0,0.3L-0.4408,0.6068L-0.2853,0.0927L-0.7133,-0.2318L-0.1763,-0.2427Z",
             "M-0.6,-0.6H0.6V0.6H-0.6Z",
             "M0.6,0A0.6,0.6 0 1 1 -0.6,0A0.6,0.6 0 1 1 0.6,0Z"]}, "legend": null}}}
      ]
    }
  ]
}
